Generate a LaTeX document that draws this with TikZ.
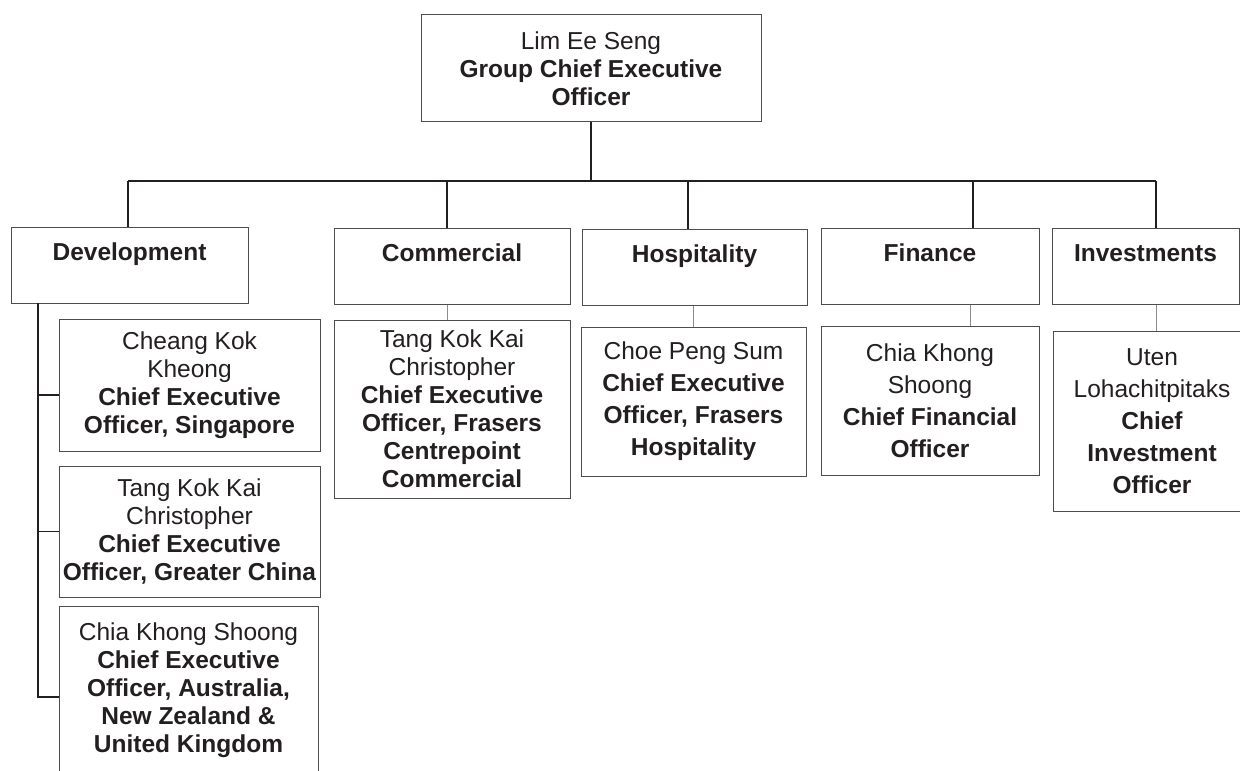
\documentclass[tikz,border=0pt]{standalone}
\usepackage{fontspec}
\setmainfont{Liberation Sans}
\usepackage{xcolor}
\definecolor{ink}{HTML}{231F20}
\definecolor{frame}{HTML}{4D4D4D}
\definecolor{linkgray}{HTML}{8C8C8C}

\begin{document}
\begin{tikzpicture}[x=0.5pt, y=-0.5pt,
  box/.style={draw=frame, line width=0.5pt, text=ink, align=center, inner sep=1pt, font=\fontsize{12.25}{14}\selectfont},
  head/.style={box, text height=15.5pt, text depth=20.5pt},
  post/.style={box},
  tall/.style={box, font=\fontsize{12.25}{16}\selectfont},
  wire/.style={ink, line width=0.65pt},
  sublink/.style={linkgray, line width=0.5pt}]
\useasboundingbox (0,0) rectangle (1240,770);
\clip (0,0) rectangle (1240,770);

\node[box, minimum width=170pt, minimum height=53.5pt] (ceo) at (591,68.5){Lim Ee Seng\\\textbf{Group Chief Executive}\\\textbf{Officer}};

% bar
\coordinate (bd) at (128,181);
\coordinate (bc) at (447,181);
\coordinate (bh) at (688,181);
\coordinate (bf) at (973,181);
\coordinate (bi) at (1156,181);

\node[head, minimum width=118.5pt] (dev) at (129.5,265){\textbf{Development}};
\node[head, minimum width=118pt] (com) at (452,266){\textbf{Commercial}};
\node[head, minimum width=112.5pt] (hos) at (694.5,267){\textbf{Hospitality}};
\node[head, minimum width=109pt] (fin) at (930,266){\textbf{Finance}};
\node[head, minimum width=93.5pt] (inv) at (1145.5,266){\textbf{Investments}};

\draw[wire] (ceo.south) -- (ceo.south |- bd);
\draw[wire] (bd) -- (bi);
\draw[wire] (bd) -- (bd |- dev.north);
\draw[wire] (bc) -- (bc |- com.north);
\draw[wire] (bh) -- (bh |- hos.north);
\draw[wire] (bf) -- (bf |- fin.north);
\draw[wire] (bi) -- (bi |- inv.north);

% development
\node[post, minimum width=130.5pt, minimum height=66pt] (cheang) at (189.5,385){Cheang Kok\\Kheong\\\textbf{Chief Executive}\\\textbf{Officer, Singapore}};
\node[post, minimum width=130.5pt, minimum height=65.5pt] (tang) at (189.5,531.5){Tang Kok Kai\\Christopher\\\textbf{Chief Executive}\\\textbf{Officer, Greater China}};
\node[post, minimum width=129.5pt, minimum height=84.5pt] (chia) at (188.5,690.5){Chia Khong Shoong\\\textbf{Chief Executive}\\\textbf{Officer, Australia,}\\\textbf{New Zealand \&}\\\textbf{United Kingdom}};

\coordinate (dv) at (38,303);
\coordinate (ct) at ([yshift=-5pt]cheang.west);
\coordinate (tt) at (tang.west);
\coordinate (kt) at ([yshift=-3.25pt]chia.west);
\draw[wire] (dv) |- (kt);
\draw[wire] (dv |- ct) -- (ct);
\draw[wire] (dv |- tt) -- (tt);

% the other units
\node[post, minimum width=118pt, minimum height=89pt] (comp) at (452,409){Tang Kok Kai\\Christopher\\\textbf{Chief Executive}\\\textbf{Officer, Frasers}\\\textbf{Centrepoint}\\\textbf{Commercial}};
\node[tall, minimum width=112.5pt, minimum height=74.5pt] (hosp) at (693.5,401.5){Choe Peng Sum\\\textbf{Chief Executive}\\\textbf{Officer, Frasers}\\\textbf{Hospitality}};
\node[tall, minimum width=109pt, minimum height=74.5pt] (finp) at (930,400.5){Chia Khong\\Shoong\\\textbf{Chief Financial}\\\textbf{Officer}};
\node[tall, minimum width=99pt, minimum height=90pt] (invp) at (1152,421){Uten\\Lohachitpitaks\\\textbf{Chief}\\\textbf{Investment}\\\textbf{Officer}};

\draw[sublink] (bc |- com.south) -- (bc |- comp.north);
\draw[sublink] (hosp.north |- hos.south) -- (hosp.north);
\draw[sublink] (finp.north -| 970,0) -- (fin.south -| 970,0);
\draw[sublink] (bi |- inv.south) -- (bi |- invp.north);
\end{tikzpicture}
\end{document}
